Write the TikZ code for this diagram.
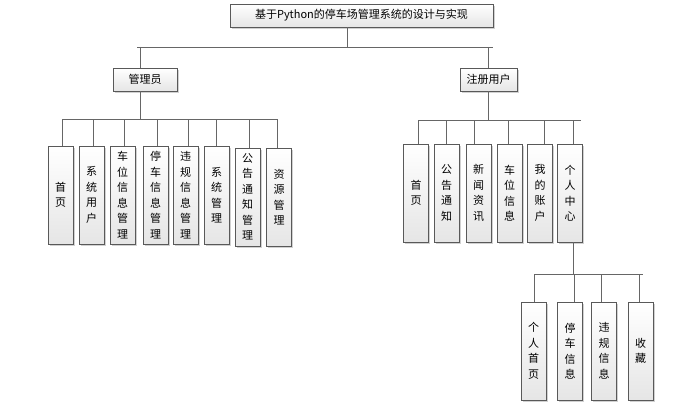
\documentclass[tikz,border=0pt]{standalone}
\usepackage{fontspec}
\setmainfont{Noto Sans CJK SC}
\usetikzlibrary{shadows}
\tikzset{
  bx/.style={draw=black!65, line width=0.9pt, top color=white, bottom color=black!10,
    drop shadow={shadow xshift=1.6pt, shadow yshift=-1.6pt, fill=black!30, opacity=0.6},
    inner sep=0pt, font=\fontsize{11}{15.5}\selectfont, text=black},
  hbox/.style={bx, minimum height=23pt},
  vbox/.style={bx, minimum width=25pt, minimum height=98pt, align=center, text width=14pt},
  conn/.style={draw=black!60, line width=0.9pt}
}
\begin{document}
\begin{tikzpicture}[x=1pt,y=-1pt]
\useasboundingbox (0,0) rectangle (691,411);
% top level
\node[hbox, minimum width=263pt] (title) at (361.5,15.5) {基于Python的停车场管理系统的设计与实现};
\node[hbox, minimum width=64pt] (admin) at (145,79.5) {管理员};
\node[hbox, minimum width=57pt] (reg) at (488.5,79.5) {注册用户};
\coordinate (bus0) at (0,47);
\coordinate (bus1) at (0,119);
\coordinate (bus2) at (0,120);
\coordinate (bus3) at (0,274);
% admin children
\node[vbox] (a1) at (60.5,195) {首\\页};
\node[vbox] (a2) at (91.5,195) {系\\统\\用\\户};
\node[vbox] (a3) at (122.5,195) {车\\位\\信\\息\\管\\理};
\node[vbox] (a4) at (155.5,195) {停\\车\\信\\息\\管\\理};
\node[vbox] (a5) at (185.5,195) {违\\规\\信\\息\\管\\理};
\node[vbox] (a6) at (216.5,195) {系\\统\\管\\理};
\node[vbox] (a7) at (247.5,197) {公\\告\\通\\知\\管\\理};
\node[vbox] (a8) at (279,197) {资\\源\\管\\理};
% user children
\node[vbox] (u1) at (416,193) {首\\页};
\node[vbox] (u2) at (446.5,193) {公\\告\\通\\知};
\node[vbox] (u3) at (478.5,193) {新\\闻\\资\\讯};
\node[vbox] (u4) at (509.5,193) {车\\位\\信\\息};
\node[vbox] (u5) at (540,193) {我\\的\\账\\户};
\node[vbox] (u6) at (570,193) {个\\人\\中\\心};
% personal center children
\node[vbox] (p1) at (533.5,351) {个\\人\\首\\页};
\node[vbox] (p2) at (570,351) {停\\车\\信\\息};
\node[vbox] (p3) at (604,351) {违\\规\\信\\息};
\node[vbox] (p4) at (640.5,351) {收\\藏};
% connectors: level 0
\draw[conn] ([xshift=-14.5pt]title.south) -- ([xshift=-14.5pt]title.south |- bus0);
\draw[conn] ([xshift=-8pt]admin.north |- bus0) -- ([xshift=4.5pt]reg.north |- bus0);
\draw[conn] ([xshift=-5pt]admin.north |- bus0) -- ([xshift=-5pt]admin.north);
\draw[conn] (reg.north |- bus0) -- (reg.north);
% admin bus
\draw[conn] ([xshift=-5pt]admin.south) -- ([xshift=-5pt]admin.south |- bus1);
\draw[conn] ([xshift=1.5pt]a1.north |- bus1) -- ([xshift=-2pt]a8.north |- bus1);
\foreach \n/\d in {a1/1.5,a2/1.5,a3/1.5,a4/1.5,a5/2.5,a6/0,a7/1.5,a8/-2}
  \draw[conn] ([xshift=\d pt]\n.north) -- ([xshift=\d pt]\n.north |- bus1);
% user bus
\draw[conn] (reg.south) -- (reg.south |- bus2);
\draw[conn] ([xshift=2pt]u1.north |- bus2) -- ([xshift=11pt]u6.north |- bus2);
\foreach \n/\d in {u1/2,u2/0,u3/-4.5,u4/-1.5,u5/4,u6/3}
  \draw[conn] ([xshift=\d pt]\n.north) -- ([xshift=\d pt]\n.north |- bus2);
% personal center bus
\draw[conn] ([xshift=3pt]u6.south) -- ([xshift=3pt]u6.south |- bus3);
\draw[conn] ([xshift=0.5pt]p1.north |- bus3) -- ([xshift=2.5pt]p4.north |- bus3);
\foreach \n/\d in {p1/0.5,p2/4,p3/-3,p4/-1.5}
  \draw[conn] ([xshift=\d pt]\n.north) -- ([xshift=\d pt]\n.north |- bus3);
\end{tikzpicture}
\end{document}
